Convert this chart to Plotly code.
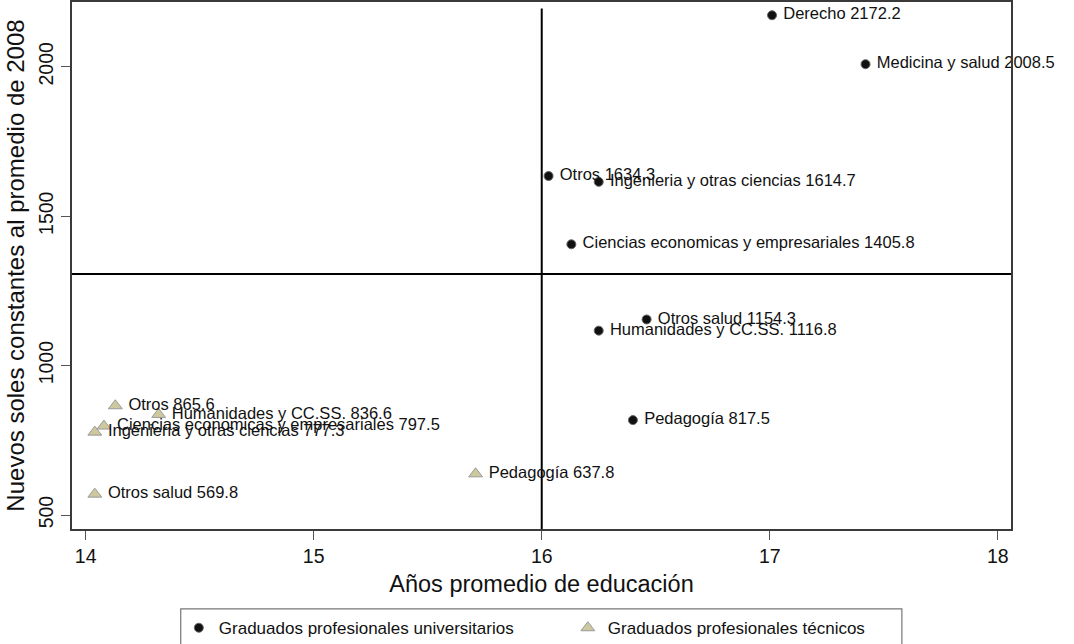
import plotly.graph_objects as go

FONT = "Liberation Sans, Arial, Helvetica, sans-serif"

# Graduados profesionales universitarios: años de educación y ingreso
uni_areas = ["Derecho", "Medicina y salud", "Otros", "Ingenieria y otras ciencias",
             "Ciencias economicas y empresariales", "Otros salud",
             "Humanidades y CC.SS.", "Pedagogía"]
uni_years = [17.01, 17.42, 16.03, 16.25, 16.13, 16.46, 16.25, 16.40]
uni_wage = [2172.2, 2008.5, 1634.3, 1614.7, 1405.8, 1154.3, 1116.8, 817.5]

# Graduados profesionales técnicos
tec_areas = ["Otros", "Humanidades y CC.SS.", "Ciencias economicas y empresariales",
             "Ingenieria y otras ciencias", "Otros salud", "Pedagogía"]
tec_years = [14.13, 14.32, 14.08, 14.04, 14.04, 15.71]
tec_wage = [865.6, 836.6, 797.5, 777.3, 569.8, 637.8]

# Líneas de referencia (promedios)
x_ref = 16.0
y_ref = 1306.0

x_ticks = [14, 15, 16, 17, 18]
y_ticks = [500, 1000, 1500, 2000]
x_range = [13.94, 18.058]
y_range = [453.2, 2216.5]


def labels(areas, values):
    return [f" {a} {v:.1f}" for a, v in zip(areas, values)]


fig = go.Figure()

fig.add_trace(go.Scatter(
    x=uni_years, y=uni_wage, mode="markers+text",
    name="Graduados profesionales universitarios",
    text=labels(uni_areas, uni_wage), textposition="middle right",
    textfont=dict(family=FONT, size=16.5, color="#111"),
    marker=dict(symbol="circle", size=9, color="#111",
                line=dict(color="#666", width=1)),
    cliponaxis=False,
    legendwidth=344,
))

fig.add_trace(go.Scatter(
    x=tec_years, y=tec_wage, mode="markers+text",
    name="Graduados profesionales técnicos",
    text=labels(tec_areas, tec_wage), textposition="middle right",
    textfont=dict(family=FONT, size=16.5, color="#111"),
    marker=dict(symbol="triangle-up", size=12, color="#cdc89e",
                line=dict(color="#9a9a9a", width=1)),
    cliponaxis=False,
    legendwidth=285,
))

shapes = [
    dict(type="line", xref="x domain", yref="y", x0=0, x1=1, y0=y_ref, y1=y_ref,
         line=dict(color="black", width=2), layer="below"),
    dict(type="line", xref="x", yref="y", x0=x_ref, x1=x_ref, y0=y_range[0], y1=2195,
         line=dict(color="black", width=2), layer="below"),
    # marco de la leyenda
    dict(type="rect", xref="paper", yref="paper", x0=0.1158, x1=0.8838,
         y0=-0.25, y1=-0.1515, line=dict(color="#777", width=1.2),
         fillcolor="rgba(0,0,0,0)"),
]

fig.update_layout(
    width=1074, height=644,
    margin=dict(l=72, r=63, t=2, b=115, autoexpand=False),
    paper_bgcolor="white", plot_bgcolor="white",
    font=dict(family=FONT, color="#111"),
    showlegend=True,
    legend=dict(orientation="h", xref="container", yref="container",
                x=0.1665, xanchor="left", y=0.0525, yanchor="top",
                font=dict(family=FONT, size=17, color="#111"),
                borderwidth=0, bgcolor="rgba(0,0,0,0)", itemclick=False),
    shapes=shapes,
)

fig.update_xaxes(
    range=x_range, tickvals=x_ticks, ticktext=[str(t) for t in x_ticks],
    showgrid=False, zeroline=False,
    showline=True, mirror=True, linecolor="#3a3a3a", linewidth=1.5,
    ticks="outside", ticklen=9, tickwidth=1, tickcolor="#555",
    tickfont=dict(family=FONT, size=19.5, color="#111"),
    title=dict(text="Años promedio de educación",
               font=dict(family=FONT, size=23.5, color="#111"), standoff=9),
)

fig.update_yaxes(
    range=y_range, tickvals=y_ticks, ticktext=[str(t) for t in y_ticks],
    showgrid=False, zeroline=False,
    showline=True, mirror=True, linecolor="#3a3a3a", linewidth=1.5,
    ticks="outside", ticklen=9, tickwidth=1, tickcolor="#555",
    tickangle=-90,
    tickfont=dict(family=FONT, size=19.5, color="#111"),
    title=dict(text="Nuevos soles constantes al promedio de 2008",
               font=dict(family=FONT, size=24, color="#111"), standoff=4),
)

fig.write_html("out.html")
